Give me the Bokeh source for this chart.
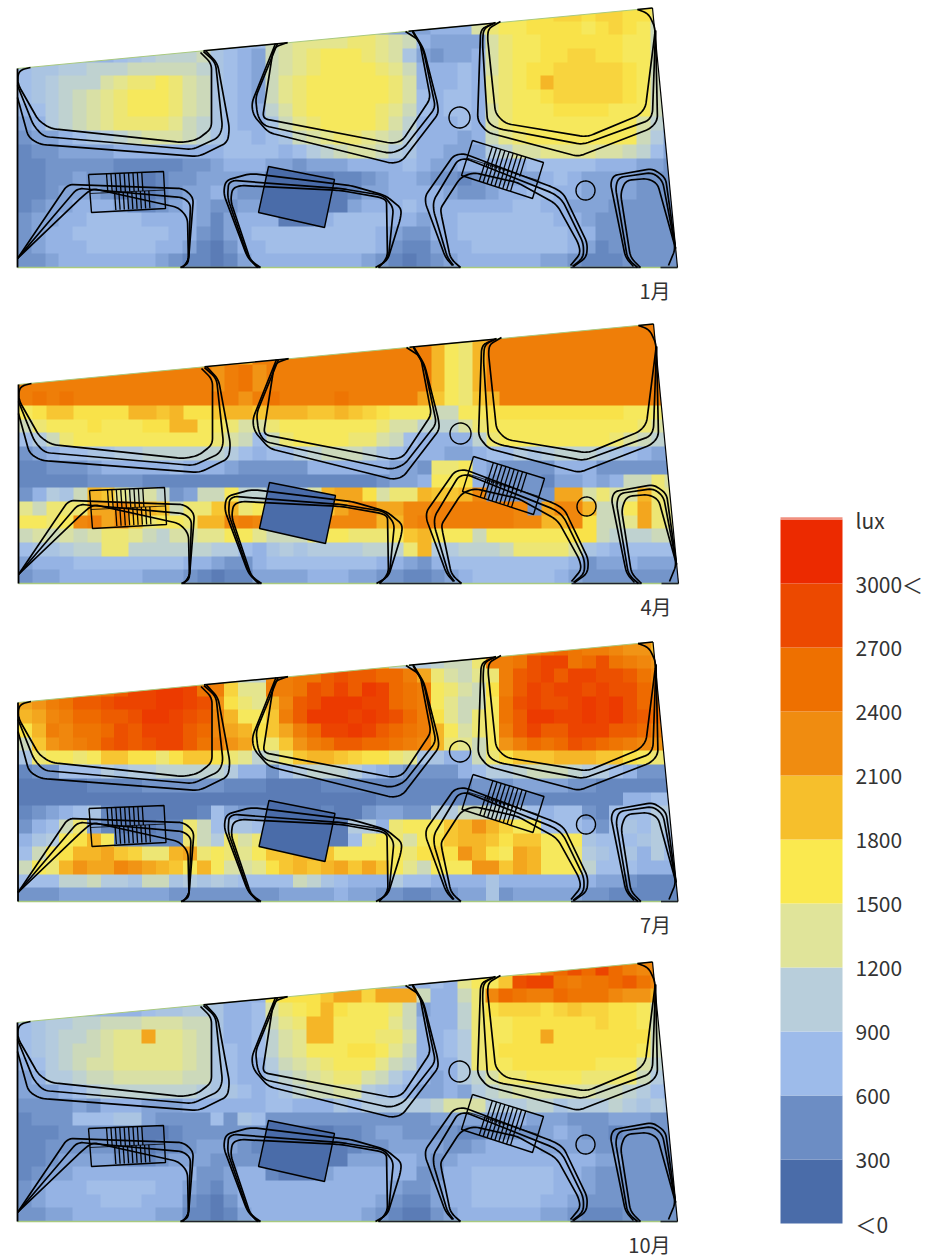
import numpy as np
from bokeh.core.properties import value
from bokeh.embed import file_html
from bokeh.layouts import column, row
from bokeh.models import LinearColorMapper, Range1d
from bokeh.plotting import figure
from bokeh.resources import INLINE

MONTHS = ["1月", "4月", "7月", "10月"]

# Illuminance per grid cell in hundreds of lux, base 36 (0-9, a=10 ... u=30). Rows from the top.
JAN = """
777777 777777 777777 777777 777777 777dgg ghhiih iihhf8
777777 777777 777777 777777 776666 777dfg ghhhhg hihgc8
777777 777777 778888 cdeeee ffedc7 6666df gghhhh hhggc7
777777 789abb bc9876 cdefgg gfed96 5667df gghhii hhggc7
899aab bbcccc cb9876 cdefgg ggfec7 7787df ghhiii iihgc7
89abbb deffgf dc9876 cefggg gggfd7 7787ef ghkiii iihgc7
89abcd efgggf dc9876 cefggg gggfd8 7887ef gghiii iihgc7
78abcd efgggf dc9877 bdfggg ggfec8 7887df ggghhh hgggc6
67abcd effffe cb9877 9cefgg ggfdb7 7787df gggggg gggdb6
566789 abcddd cb9887 89cdef fedca7 7767ce fggggg gggca6
455666 677777 777888 878abc ddca97 7666ab ddeeee ddcb86
445555 544444 556777 665666 777787 667777 788888 777665
445565 544345 566666 333334 456776 554566 667876 666555
445666 534345 667655 333333 466777 765567 788776 666555
456677 764456 765566 333333 677787 777777 887766 655555
566778 888777 764677 733378 888776 778888 888776 555555
567788 888887 754678 888888 887655 778888 888877 555555
567778 888877 643577 888888 887544 677888 888876 455555
556777 777765 443467 777777 765434 567777 776654 445555
"""
APR = """
oooooo oooooo oooooo oooooo oooooo oooooo oooooo oooooo
oooooo oooooo oooooo oooooo oooooo kgfkoo oooooo oooooo
oooooo oooooo ooomko oooooo oooooo kgfkoo oooooo oooooo
oooooo oooooo oomopm oooooo oooooo kgfkoo oooooo oooooo
oooooo oooooo oomopm oooooo oooooo kgfkoo oooooo oooooo
opopoo oooooo oooomo poooop oooool jgfjko oooooo oooooo
ghjjhh hhkkjk hhjkkj kkkjjk jihggg ccgghh hhhhhh hhggff
cfgggh ggghhk kggfdd fggggg ggfddb bbdfgg gggggg gggfdb
8acfgg gggggg ggfdc8 cfgggg ffdc87 777bfg gggggg gfdcb8
567889 9aabbb bbba87 88abcc cb9877 766788 a9abbb a98766
445556 777778 777655 555777 777665 ffg765 555777 555555
444445 555444 444444 444444 445667 ggh755 554667 67ccfd
57a9ck jecdb5 6ccgbb 44adkl lhdffk jjkn55 555lld fddkfe
ecfffl lnlkjc ffjkfg 6655jl nnllnn oooooo n5lnnk ccglfe
ggfgno lnjfgg fkknon kd5jnn nnkkno oooooo nnkknh ccelfe
cdcdcd ffecbd deegge cccfgg fffgjk gggcgg gggghh cbbbcc
899abb ffbbbb bbaa87 9a9aaa abbbfk aabbbc ffffd9 878888
677788 888888 776557 888888 887765 788888 888875 667666
566777 777666 543446 666777 665544 567888 888765 555555
"""
JUL = """
777777 777777 777777 777777 777777 888fkk nopqpo onmmkk
777777 777777 777777 777777 nnkbaa bccfoo psttpq sponmk
777777 777777 kcddbb nopprs rrqqol fdcefo rstrtt ssrpnk
777nno prttuu tpoiee oopsrt rutqpo gfdcho rtstts tssqol
lmoprr stttuu tsmhfe knrsuu uttqpo geccgp stsstu tusqpm
klnoqq rrsuut srnkgg joruuu tutsqo hecfgp ruuttu tusrqm
hkonpp qsrttt rqnlkh jloqtt utrqpo kgdfgo rtrrtt trrqom
cjmnop rsrstt rpomlg fjmopr rqqpon kfecgm oqpqsr qponmg
9fggfg jjhhfh jjhfeb cfjkkj ihhfe9 977cfh jjjkkk jjhgfc
455888 a9aabb bbba77 58abbb a87655 5578aa bcccba a87555
333334 444555 555444 333344 444444 444555 666655 444444
333333 333333 333333 333333 334444 444444 444444 447788
456789 433333 348655 333343 356655 aaccba 987885 4888aa
578cf6 433344 fc8998 333333 aa7fgg gjkmki gg8887 5898a9
79aghk g44444 fcafdf dc3333 8fgfdg hjkkjh jjggg9 8889a8
8cghkk ljiffk lfgfeg jjkkjg ggggfh ihmkhg lkggfa 9897a8
cgfkml lnmlkj gkgdde hjkjkl jljgec gggmmj lkgggb 888777
888bbc aa9cc9 a9a988 88cb98 777a88 777797 777777 665444
555666 666665 555555 566667 665544 556695 666665 544444
"""
OCT = """
777777 777777 777777 777777 777777 777dff gioqsq tqonnk
777777 777777 777777 777777 777777 87eggj sttpop pqrpnl
777777 777777 777777 ghhhjl lilllc 77cfnq pooqpp pnmmkh
777777 777899 aa9778 dfghkh gggfc6 77bfhi iihiji ihhgc8
89aabb cccddd cc9778 cefkkg gggec7 77bfgg hhhhhh ihhgc7
89abbc deelee dc9778 bdekkg ggffd7 78afgg hhlhhh hhhhc7
89abcc deeeee dc9878 bdeggg hhgec7 78afgh hhhhhh hhhgc7
78abcd deeeee dc9877 acdefg ggecb7 77afgg hhhhhh gggdb6
67aabc cddddd cc9877 9bcdef fdca87 67abdf fggggf fffca6
66678a bbbbbb ba9987 89bccd da9876 676abc dddddd ccba87
555565 777666 777777 887779 8aaaaa bdddaa abb9aa aba9a9
455588 899655 558598 555555 555555 666666 766655 566655
444555 544334 555555 333334 456655 554455 556765 545555
445555 544344 566654 333333 455666 655677 776666 555555
445666 654456 665555 333333 666776 567777 777777 665555
456677 777777 755677 433367 777775 577888 888776 555555
567778 888877 654677 777777 777655 677888 888776 555555
567777 888777 543577 777777 776544 677888 887765 555555
556677 777766 443467 777777 765433 567777 776654 445555
"""
MATRICES = [JAN, APR, JUL, OCT]

# Legend
BAND_COLORS = ["#4a6ca9", "#6c8dc4", "#9dbbea", "#b8cedb", "#e0e49a", "#fae94f",
               "#f6bf2c", "#f08c10", "#ee7000", "#ec4900", "#ec2a00"]
BAND_STEP = 300
LEGEND_TICKS = [0, 300, 600, 900, 1200, 1500, 1800, 2100, 2400, 2700, 3000, 3300]
LEGEND_LABELS = ["＜0", "300", "600", "900", "1200", "1500", "1800", "2100", "2400", "2700", "3000＜", "lux"]

# Floor plan outlines, in pixels of the first panel
SITE = [(17, 68), (652, 7.5), (677, 267), (17, 267)]
ROOMS = [
    [(30, 67), (18, 70), (17, 83), (38, 120), (50, 128), (182, 142), (197, 139), (211, 128), (211, 63), (200, 52)],
    [(17, 85), (33, 125), (43, 136), (192, 149), (218, 137), (222, 127), (215, 62), (203, 51)],
    [(17, 97), (28, 137), (40, 144), (198, 156), (227, 142), (229, 128), (217, 63), (205, 50)],
    [(287, 42), (273, 47), (262, 118), (392, 143), (402, 140), (430, 98), (419, 40), (405, 31)],
    [(277, 43), (255, 97), (257, 115), (263, 125), (390, 153), (403, 148), (435, 107), (423, 50), (412, 31)],
    [(275, 43), (251, 103), (253, 115), (268, 132), (392, 163), (402, 160), (438, 113), (437, 103), (423, 48), (412, 30)],
    [(500, 21), (488, 28), (487, 37), (495, 113), (505, 123), (583, 136), (590, 135), (638, 115), (645, 107), (655, 28), (648, 13), (637, 9)],
    [(495, 22), (483, 28), (482, 43), (487, 122), (497, 128), (582, 144), (648, 120), (652, 113), (655, 30)],
    [(493, 23), (482, 28), (480, 33), (477, 120), (487, 132), (578, 156), (650, 128), (657, 120), (655, 30)],
    [(17, 258), (83, 195), (92, 188), (178, 207), (187, 217), (188, 263), (180, 267)],
    [(17, 258), (75, 190), (80, 188), (182, 197), (190, 203), (188, 260), (182, 267)],
    [(17, 258), (65, 187), (70, 184), (183, 188), (193, 197), (188, 260), (182, 267)],
    [(260, 267), (250, 260), (230, 200), (232, 188), (240, 185), (340, 190), (380, 197), (386, 200), (387, 257), (378, 267)],
    [(258, 267), (248, 258), (227, 197), (228, 183), (233, 180), (340, 188), (383, 195), (393, 207), (388, 257), (378, 267)],
    [(257, 267), (247, 257), (223, 193), (225, 180), (250, 173), (350, 185), (385, 195), (401, 208), (400, 218), (387, 260), (375, 267)],
    [(460, 267), (450, 258), (441, 215), (440, 208), (460, 177), (473, 172), (517, 182), (553, 202), (558, 207), (578, 243), (580, 253), (570, 265)],
    [(453, 265), (447, 257), (433, 210), (433, 200), (457, 160), (465, 158), (553, 193), (562, 200), (583, 243), (583, 257), (572, 266)],
    [(452, 265), (445, 257), (425, 203), (425, 195), (453, 155), (463, 153), (553, 187), (563, 193), (587, 243), (586, 257), (573, 266)],
    [(640, 267), (630, 257), (620, 193), (625, 180), (647, 178), (657, 183), (675, 248), (668, 265)],
    [(637, 267), (627, 258), (615, 187), (618, 177), (652, 172), (662, 180), (675, 248)],
    [(633, 266), (625, 257), (610, 183), (613, 175), (652, 168), (665, 177), (675, 248)],
]
CIRCLES = [(459, 117, 10.5), (585, 190, 9.5)]
HATCHED_RECT_1 = [(88, 174), (163, 171), (165, 208), (91, 212)]
HATCHED_RECT_2 = [(472, 140), (543, 162), (532, 198), (461, 175)]
SOLID_RECT = [(268, 166), (334, 179), (324, 227), (258, 212)]
SOLID_RECT_COLOR = "#4a6ca9"
TOP_BLACK_SPANS = [(203, 287), (408, 495), (637, 652)]
BOTTOM_BLACK_SPANS = [(180, 260), (378, 460), (570, 640), (660, 677)]

PANEL_DX = [0, 1, 0.5, 0]
PANEL_ABOVE = [267, 273, 273, 271]
PANEL_BELOW = [43, 45, 49, 39]
GRID_W, GRID_H = 660, 260
FONT = "Noto Sans CJK JP"


def px(pt):
    return pt[0] - 17, 267 - pt[1]


def rounded(points, radius=6.0):
    pts = [np.array(px(q), dtype=float) for q in points]
    xs, ys = [pts[0][0]], [pts[0][1]]
    for a, b, c in zip(pts, pts[1:], pts[2:]):
        la, lc = np.linalg.norm(a - b), np.linalg.norm(c - b)
        r = min(radius, la / 2, lc / 2)
        s = b + (a - b) / la * r
        e = b + (c - b) / lc * r
        for t in np.linspace(0, 1, 7):
            q = (1 - t) ** 2 * s + 2 * t * (1 - t) * b + t ** 2 * e
            xs.append(q[0])
            ys.append(q[1])
    xs.append(pts[-1][0])
    ys.append(pts[-1][1])
    return xs, ys


def to_matrix(text):
    rows = []
    for line in text.strip().splitlines():
        cells = line.replace(" ", "")
        rows.append([int(ch, 36) * 100 for ch in cells])
    width = max(len(r) for r in rows)
    rows = [r + [r[-1]] * (width - len(r)) for r in rows]
    return np.array(rows[::-1], dtype=float)


def hex_rgb(h):
    return np.array([int(h[i:i + 2], 16) for i in (1, 3, 5)], dtype=float)


def make_palette():
    anchors = np.arange(len(BAND_COLORS)) * BAND_STEP + BAND_STEP / 2
    rgb = np.array([hex_rgb(c) for c in BAND_COLORS])
    out = []
    for lux in range(0, 3300, 100):
        vals = [int(round(np.interp(lux, anchors, rgb[:, k]))) for k in range(3)]
        out.append("#%02x%02x%02x" % tuple(vals))
    return out


PALETTE = make_palette()


def bilerp(rect, u, v):
    a, b, c, d = [np.array(q, dtype=float) for q in rect]
    return (1 - v) * ((1 - u) * a + u * b) + v * ((1 - u) * d + u * c)


def hatched(p, rect, ranges):
    for u0, u1, v0, v1 in ranges:
        for u in np.linspace(u0, u1, 9):
            a, b = px(bilerp(rect, u, v0)), px(bilerp(rect, u, v1))
            p.line([a[0], b[0]], [a[1], b[1]], line_color="black", line_width=1.3)
    a, b = px(bilerp(rect, 0, 0.5)), px(bilerp(rect, 1, 0.5))
    p.line([a[0], b[0]], [a[1], b[1]], line_color="black", line_width=0.8)


def panel(i):
    dx = PANEL_DX[i]
    p = figure(width=696, height=PANEL_ABOVE[i] + PANEL_BELOW[i], output_backend="svg", toolbar_location=None,
               x_range=Range1d(-17 - dx, 679 - dx), y_range=Range1d(-PANEL_BELOW[i], PANEL_ABOVE[i]),
               min_border=0, outline_line_color=None, background_fill_color="white")
    p.axis.visible = False
    p.grid.visible = False
    mapper = LinearColorMapper(palette=PALETTE, low=-50, high=3250)
    p.image(image=[to_matrix(MATRICES[i])], x=0, y=0, dw=GRID_W, dh=GRID_H, color_mapper=mapper)

    tl, tr, br, bl = [px(q) for q in SITE]
    p.patch([tl[0] - 3, tl[0], tr[0], tr[0], tl[0] - 3], [tl[1], tl[1], tr[1], 300, 300],
            fill_color="white", line_color=None)
    p.patch([tr[0], br[0], br[0] + 12, br[0] + 12, tr[0]], [tr[1], br[1], br[1], 300, 300],
            fill_color="white", line_color=None)

    p.line([tl[0], tr[0]], [tl[1], tr[1]], line_color="#a9c97f", line_width=1)
    p.line([bl[0], br[0]], [bl[1], br[1]], line_color="#a9c97f", line_width=1.4)
    slope = (tr[1] - tl[1]) / (tr[0] - tl[0])
    for x0, x1 in TOP_BLACK_SPANS:
        a, b = x0 - 17, x1 - 17
        p.line([a, b], [tl[1] + slope * a, tl[1] + slope * b], line_color="black", line_width=1.4)
    for x0, x1 in BOTTOM_BLACK_SPANS:
        p.line([x0 - 17, x1 - 17], [0, 0], line_color="#20242c", line_width=1.6)
    p.line([tl[0], bl[0]], [tl[1], bl[1]], line_color="black", line_width=1.8)
    p.line([tr[0], br[0]], [tr[1], br[1]], line_color="black", line_width=1.2)

    sx, sy = zip(*[px(q) for q in SOLID_RECT])
    p.patch(list(sx), list(sy), fill_color=SOLID_RECT_COLOR, line_color="black", line_width=1.4)

    for room in ROOMS:
        xs, ys = rounded(room)
        p.line(xs, ys, line_color="black", line_width=1.7)

    for rect, ranges in ((HATCHED_RECT_1, [(0.24, 0.71, 0, 0.5), (0.33, 0.79, 0.5, 0.97)]),
                         (HATCHED_RECT_2, [(0.28, 0.75, 0, 0.55), (0.25, 0.69, 0.45, 1)])):
        rx, ry = zip(*[px(q) for q in rect + rect[:1]])
        p.line(list(rx), list(ry), line_color="black", line_width=1.4)
        hatched(p, rect, ranges)

    for cx, cy, r in CIRCLES:
        c = px((cx, cy))
        t = np.linspace(0, 2 * np.pi, 60)
        p.line(c[0] + r * np.cos(t), c[1] + r * np.sin(t), line_color="black", line_width=1.4)

    p.text([653], [-23], text=[MONTHS[i]], text_align="right", text_baseline="middle",
           text_font=value(FONT), text_font_size="20px", text_color="#333333")
    return p


def legend():
    h = sum(PANEL_ABOVE) + sum(PANEL_BELOW)
    y0 = -37 * BAND_STEP / 64
    p = figure(width=240, height=h, output_backend="svg", toolbar_location=None,
               x_range=Range1d(0, 240), y_range=Range1d(y0, y0 + h * BAND_STEP / 64),
               min_border=0, outline_line_color=None, background_fill_color="white")
    p.axis.visible = False
    p.grid.visible = False
    lows = [LEGEND_TICKS[k] for k in range(len(BAND_COLORS))]
    p.quad(left=84, right=146, bottom=lows, top=[v + BAND_STEP for v in lows], fill_color=BAND_COLORS, line_color=None)
    p.quad(left=84, right=146, bottom=[LEGEND_TICKS[-1]], top=[LEGEND_TICKS[-1] + 10], fill_color="#f09080", line_color=None)
    p.text([159] * len(LEGEND_TICKS), LEGEND_TICKS, text=LEGEND_LABELS, text_align="left", text_baseline="middle",
           text_font=value(FONT), text_font_size="21px", text_color="#333333")
    return p


layout = row(column(*[panel(i) for i in range(4)]), legend())
open("out.html", "w").write(file_html(layout, INLINE))
